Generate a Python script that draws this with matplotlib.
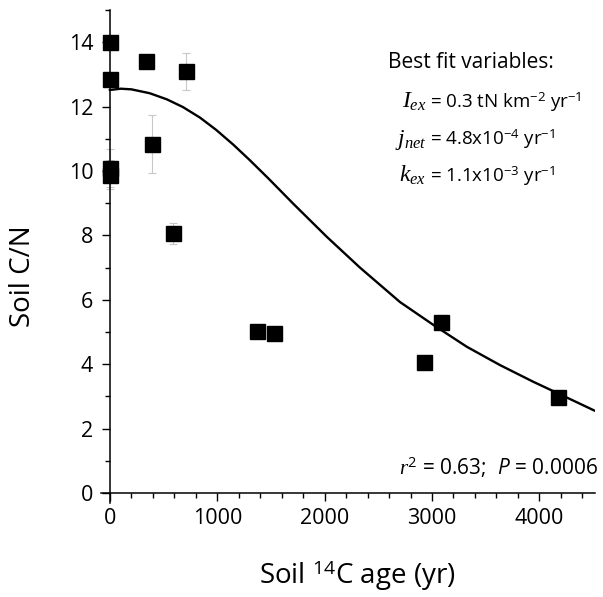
import matplotlib
matplotlib.use("Agg")
import matplotlib.pyplot as plt
from matplotlib.ticker import MultipleLocator

# Data
age = [0, 0, 0, 0, 335, 708, 395, 584, 1373, 1532, 2923, 3082, 4172]
cn = [14.0, 12.86, 10.1, 9.88, 13.43, 13.1, 10.84, 8.07, 5.04, 4.96, 4.06, 5.32, 2.99]
cn_err = [0, 0, 0.6, 0.45, 0, 0.58, 0.89, 0.33, 0, 0, 0, 0, 0]

# best fit model curve
fit_age = [0, 100, 200, 370, 530, 680, 840, 990, 1150, 1300, 1480, 1710,
           2020, 2330, 2703, 3014, 3326, 3636, 3947, 4133, 4520]
fit_cn = [12.52, 12.56, 12.54, 12.42, 12.23, 11.99, 11.66, 11.28, 10.82, 10.35, 9.76, 8.98,
          7.96, 7.0, 5.93, 5.22, 4.54, 3.97, 3.45, 3.16, 2.55]

plt.rcParams['font.family'] = ['Open Sans', 'DejaVu Sans']
plt.rcParams['mathtext.fontset'] = 'custom'
plt.rcParams['mathtext.rm'] = 'Open Sans'
plt.rcParams['mathtext.it'] = 'Liberation Serif:italic'
plt.rcParams['mathtext.sf'] = 'Open Sans:italic'

fig = plt.figure(figsize=(6.03, 5.97), dpi=100)
ax = fig.add_axes([0.168, 0.158, 0.819, 0.825])

ax.errorbar(age, cn, yerr=cn_err, fmt='none', ecolor='#c8c8c8', elinewidth=0.8,
            capsize=3.2, capthick=0.8, zorder=2)
ax.plot(fit_age, fit_cn, color='black', lw=1.7, zorder=3)
ax.plot(age, cn, 's', color='black', markersize=10.8, zorder=4, clip_on=False)

ax.set_xlim(-80, 4520)
ax.set_ylim(-0.3, 15)

for s in ['top', 'right']:
    ax.spines[s].set_visible(False)
ax.spines['left'].set_position(('data', 0))
ax.spines['bottom'].set_position(('data', 0))
ax.spines['left'].set_linewidth(1.1)
ax.spines['bottom'].set_linewidth(1.1)

ax.xaxis.set_major_locator(MultipleLocator(1000))
ax.xaxis.set_minor_locator(MultipleLocator(200))
ax.yaxis.set_major_locator(MultipleLocator(2))
ax.yaxis.set_minor_locator(MultipleLocator(1))
ax.tick_params(which='major', direction='out', length=6, width=1.0, labelsize=15.5)
ax.tick_params(axis='x', which='major', pad=5)
ax.tick_params(axis='y', which='major', pad=6)
ax.tick_params(which='minor', direction='out', length=3.5, width=1.0)

ax.set_xlabel('Soil $^{14}$C age (yr)', fontsize=20)
ax.set_ylabel('Soil C/N', fontsize=20)
ax.xaxis.set_label_coords(0.518, -0.115)
ax.yaxis.set_label_coords(-0.13, 0.46)

# annotation
ax.text(0.581, 0.882, 'Best fit variables:', transform=ax.transAxes, fontsize=15,
        ha='left', va='baseline')
ax.text(0.658, 0.801, r'$I_{ex}$', transform=ax.transAxes, fontsize=17, ha='right', va='baseline')
ax.text(0.666, 0.801, r'= 0.3 tN km$^{-2}$ yr$^{-1}$', transform=ax.transAxes, fontsize=13.5,
        ha='left', va='baseline')
ax.text(0.658, 0.726, r'$j_{net}$', transform=ax.transAxes, fontsize=17, ha='right', va='baseline')
ax.text(0.666, 0.726, r'= 4.8x10$^{-4}$ yr$^{-1}$', transform=ax.transAxes, fontsize=13.5,
        ha='left', va='baseline')
ax.text(0.658, 0.651, r'$k_{ex}$', transform=ax.transAxes, fontsize=17, ha='right', va='baseline')
ax.text(0.666, 0.651, r'= 1.1x10$^{-3}$ yr$^{-1}$', transform=ax.transAxes, fontsize=13.5,
        ha='left', va='baseline')
ax.text(1.006, 0.056, r'$r^{2}$ = 0.63;  $\mathsf{P}$ = 0.0006', transform=ax.transAxes,
        fontsize=15, ha='right', va='baseline')

fig.savefig('out.png', dpi=100)
